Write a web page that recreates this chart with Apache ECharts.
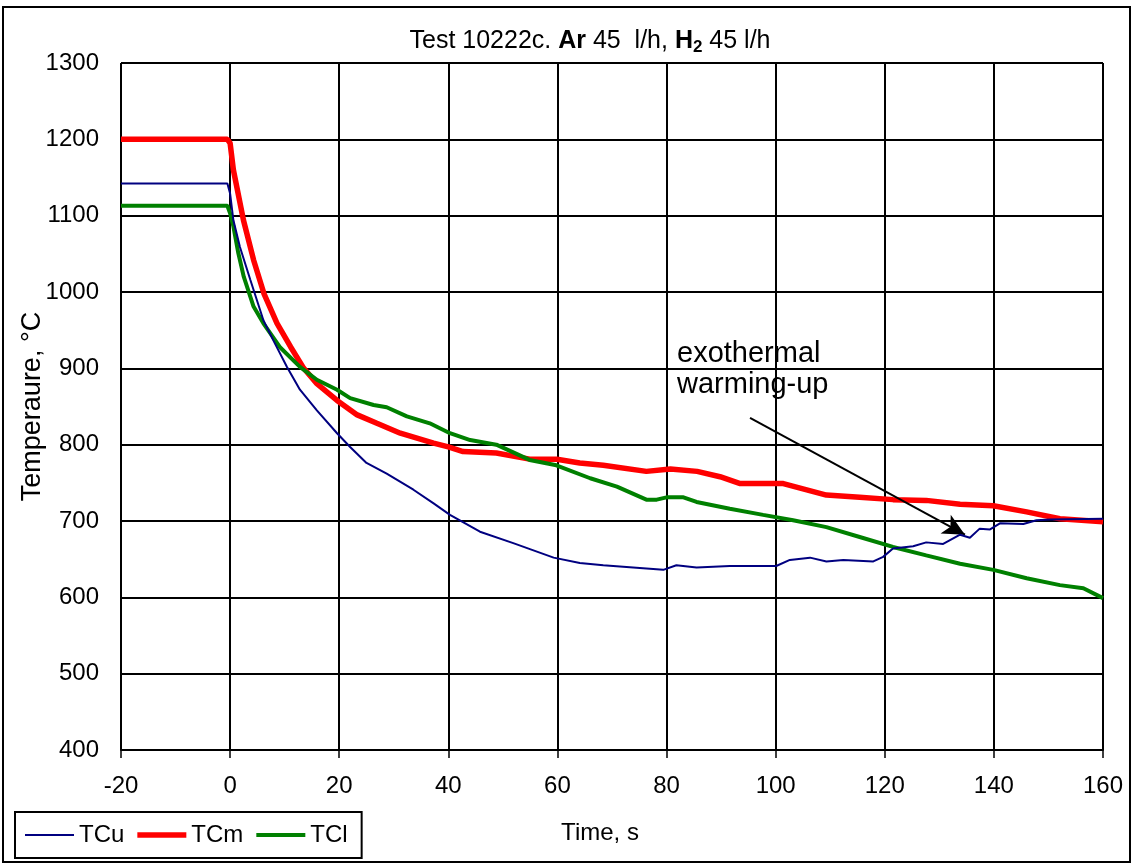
<!DOCTYPE html>
<html><head><meta charset="utf-8">
<script src="https://cdn.jsdelivr.net/npm/echarts@6/dist/echarts.min.js"></script>
<style>html,body{margin:0;padding:0;background:#fff}#c{width:1133px;height:864px}</style>
</head><body><div id="c"></div>
<script>
const seriesNames = ['TCu', 'TCm', 'TCl'];
const xTicks = [-20, 160, 20];
const yTicks = [400, 1300, 100];
// [time s, temperature °C]
const tcu = [[-20,1142],[-0.5,1142],[0,1129],[0.6,1094],[1.8,1059],[3.7,1016],[6.1,963],[7.9,937],[10.4,902],[12.8,872],[15.9,845],[19.6,815],[22,797],[25,776],[28.7,762],[33.6,741],[37.3,723],[40.3,708],[45.8,686],[51.9,671],[59.3,652],[64.1,645],[68.4,642],[75.7,638],[79.4,636],[81.8,642],[85.5,639],[91.6,641],[97.7,641],[100.1,641],[102.6,649],[106.3,652],[109.3,647],[112.4,649],[117.9,647],[119.7,653],[121.5,664],[125.2,667],[127.6,672],[130.7,670],[133.8,682],[135.6,678],[137.4,690],[139.3,689],[141.1,697],[145.4,696],[147.8,701],[150.3,702],[160,703]];
const tcm = [[-20,1200],[-0.5,1200],[0,1195],[0.6,1160],[2.45,1094],[4.3,1042],[6.2,998],[8.6,959],[11.1,928],[13.5,900],[15.9,880],[19.6,858],[23.3,839],[26.9,828],[31.2,815],[37.3,802],[40,797],[42.7,791],[48.8,789],[54.9,781],[59.9,781],[64.1,776],[68.4,773],[76.3,765],[80.7,768],[85.6,765],[89.8,758],[93.5,749],[101.4,749],[109.3,734],[115.4,731],[121.5,728],[127.6,727],[133.8,722],[139.9,720],[146,712],[152.1,703],[160,699]];
const tcl = [[-20,1113],[-0.5,1113],[0,1103],[0.6,1086],[1.5,1051],[2.5,1020],[4.3,981],[6.1,959],[9.1,928],[12.8,902],[15.9,885],[19.6,872],[22,861],[26.3,852],[28.7,849],[32.4,837],[36.6,828],[40.3,815],[44,806],[48.8,800],[54.9,780],[59.8,773],[66,756],[70.9,745],[76.3,728],[78.2,728],[80,731],[83.1,731],[85.5,725],[91.6,716],[97.7,708],[103.2,701],[109.3,692],[115.4,679],[121.5,666],[127.6,655],[133.8,644],[139.9,636],[146,625],[152.1,616],[156.4,612],[160,599]];
const arrowFrom = [95.3, 835];
const arrowTo = [134.7, 682];
const annotation = 'exothermal\nwarming-up';

const FONT = 'Liberation Sans, Arial, sans-serif';
const colors = ['#000080', '#FF0000', '#008000'];
const widths = [2, 5.5, 4];
const iconPath = h => 'path://M0,0 L49,0 L49,' + h + ' L0,' + h + ' Z';
const chart = echarts.init(document.getElementById('c'), null, {renderer: 'canvas'});
chart.setOption({
  animation: false,
  backgroundColor: '#fff',
  textStyle: {fontFamily: FONT, color: '#000'},
  title: {
    text: '{n|Test 10222c. }{b|Ar}{n| 45  l/h, }{b|H}{sub|2}{n| 45 l/h}',
    left: 585, textAlign: 'center', top: 22,
    textStyle: {
      fontFamily: FONT, fontWeight: 'normal', fontSize: 25,
      rich: {
        n: {fontSize: 25, fontWeight: 'normal', fontFamily: FONT, color: '#000'},
        b: {fontSize: 25, fontWeight: 'bold', fontFamily: FONT, color: '#000'},
        sub: {fontSize: 17, fontWeight: 'bold', fontFamily: FONT, color: '#000', padding: [12, 0, 0, 0]}
      }
    }
  },
  grid: {left: 121, right: 30, top: 63, bottom: 114},
  legend: {
    left: 15, top: 812,
    padding: [11, 14, 11, 10],
    borderColor: '#000', borderWidth: 2,
    itemWidth: 49, itemHeight: 14, itemGap: 13,
    textStyle: {fontSize: 24, fontFamily: FONT, color: '#000'},
    data: seriesNames.map((n, i) => ({name: n, icon: iconPath(widths[i]), itemStyle: {color: colors[i]}}))
  },
  xAxis: {
    type: 'value', min: xTicks[0], max: xTicks[1], interval: xTicks[2],
    name: 'Time, s', nameLocation: 'middle', nameGap: 71, nameMoveOverlap: false,
    nameTextStyle: {fontSize: 24, fontFamily: FONT, color: '#000', padding: [0, 24, 0, 0]},
    axisLine: {onZero: false, lineStyle: {color: '#000', width: 2}},
    axisTick: {show: true, length: 8, lineStyle: {color: '#000', width: 1.5}},
    axisLabel: {fontSize: 24, fontFamily: FONT, color: '#000', margin: 24},
    splitLine: {show: true, lineStyle: {color: '#000', width: 2}}
  },
  yAxis: {
    type: 'value', min: yTicks[0], max: yTicks[1], interval: yTicks[2],
    name: 'Temperaure, °C', nameLocation: 'middle', nameGap: 75, nameRotate: 90, nameMoveOverlap: false,
    nameTextStyle: {fontSize: 27, fontFamily: FONT, color: '#000'},
    axisLine: {show: true, lineStyle: {color: '#000', width: 2}},
    axisTick: {show: true, length: 9, lineStyle: {color: '#000', width: 1.5}},
    axisLabel: {fontSize: 24, fontFamily: FONT, color: '#000', margin: 22, formatter: v => String(v)},
    splitLine: {show: true, lineStyle: {color: '#000', width: 2}}
  },
  series: [
    {name: seriesNames[0], type: 'line', data: tcu, showSymbol: false, symbol: 'none', z: 5,
     lineStyle: {color: colors[0], width: widths[0]}, itemStyle: {color: colors[0]},
     markLine: {
       silent: true, symbol: ['none', 'arrow'], symbolSize: [16, 22],
       lineStyle: {color: '#000', width: 2, type: 'solid'},
       label: {show: false},
       data: [[{coord: arrowFrom}, {coord: arrowTo}]]
     }},
    {name: seriesNames[1], type: 'line', data: tcm, showSymbol: false, symbol: 'none', z: 3,
     lineStyle: {color: colors[1], width: widths[1]}, itemStyle: {color: colors[1]}},
    {name: seriesNames[2], type: 'line', data: tcl, showSymbol: false, symbol: 'none', z: 4,
     lineStyle: {color: colors[2], width: widths[2]}, itemStyle: {color: colors[2]}}
  ],
  graphic: [
    {type: 'rect', shape: {x: 3, y: 7, width: 1127, height: 855}, style: {fill: 'none', stroke: '#000', lineWidth: 2}, silent: true, z: 100},
    {type: 'text', left: 677, top: 338, style: {text: annotation, font: '29px ' + FONT, fill: '#000', lineHeight: 31}, z: 100}
  ]
});
</script></body></html>
